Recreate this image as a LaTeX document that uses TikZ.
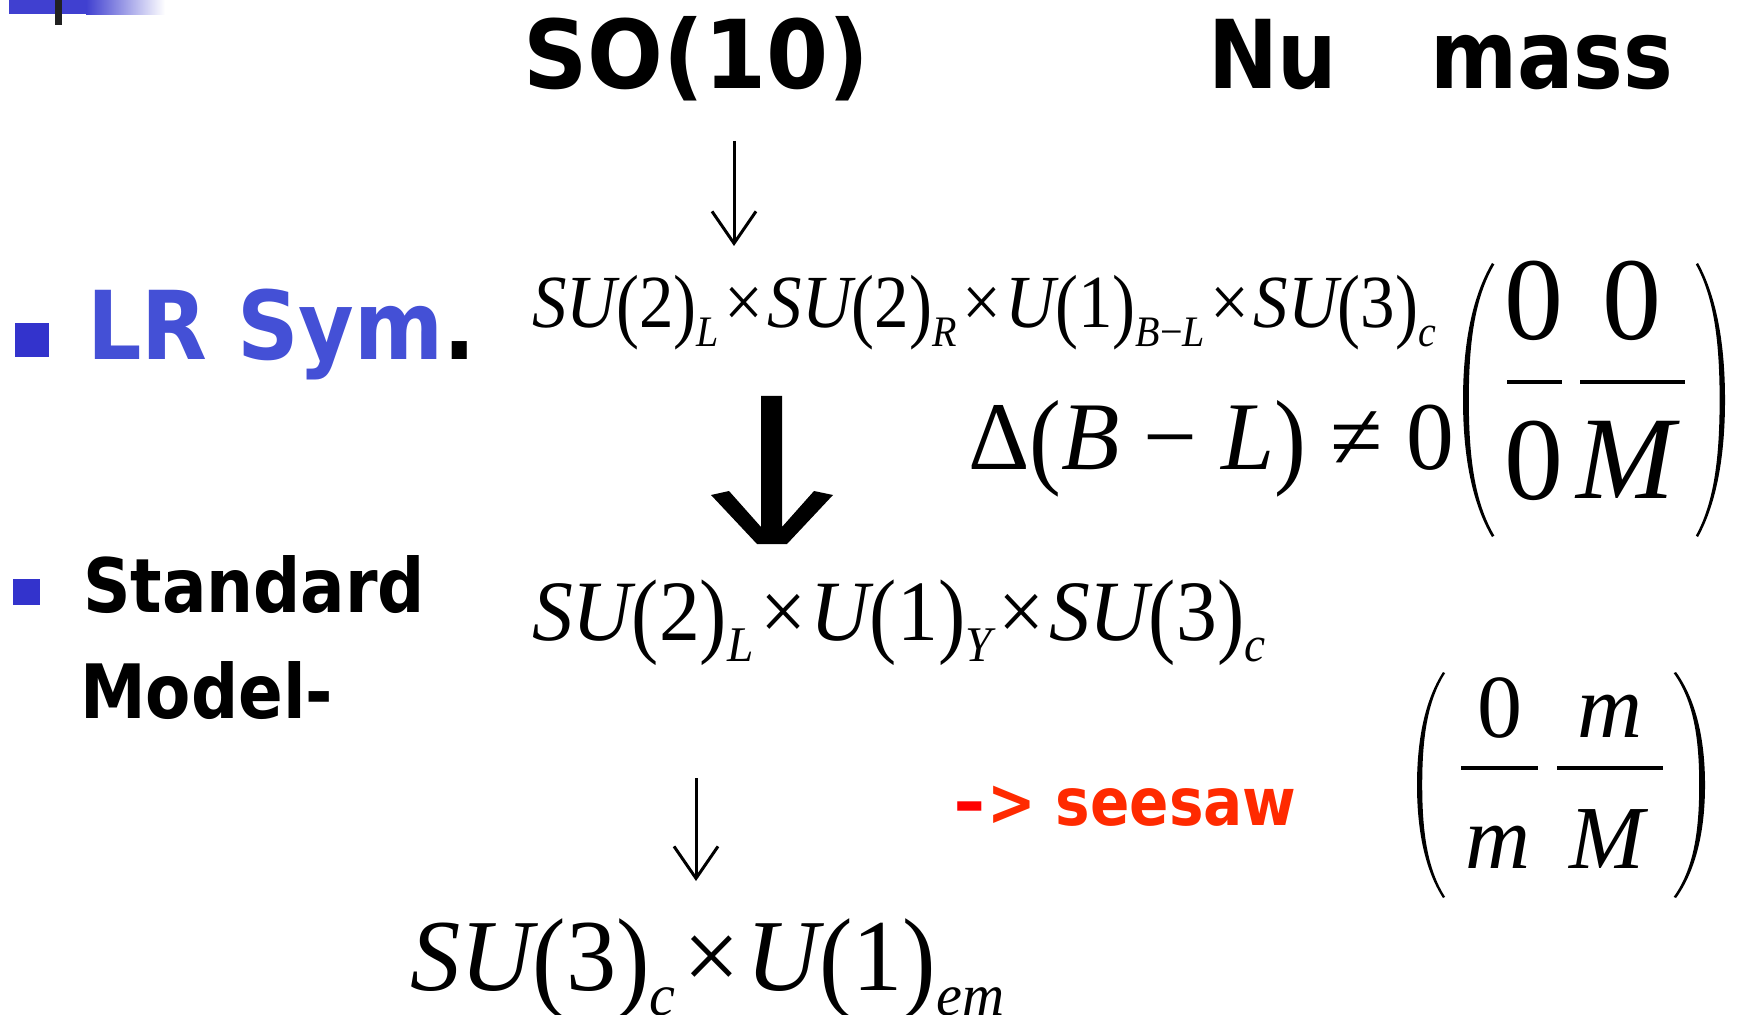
\documentclass[tikz,border=0pt]{standalone}
\usepackage{fontspec}
\usepackage{graphicx}
\usetikzlibrary{arrows.meta}
\newfontfamily\tah[FakeStretch=0.88]{DejaVu Sans}
\newfontfamily\tahw[FakeStretch=0.94]{DejaVu Sans}
\newfontfamily\tahm[FakeStretch=0.9]{DejaVu Sans}
\newfontfamily\tms{Liberation Serif}
\definecolor{lrblue}{HTML}{4450D6}
\definecolor{bulblue}{HTML}{3333CC}
\definecolor{barblue}{HTML}{4040D0}
\definecolor{sawred}{HTML}{FF2A00}
\definecolor{dashred}{HTML}{FF0000}
\newcommand\lp{\raisebox{-0.06em}{\scalebox{1}[1.1]{(}}}
\newcommand\rp{\raisebox{-0.06em}{\scalebox{1}[1.1]{)}}}
\newcommand\subx[1]{\raisebox{-0.25em}{\scalebox{0.58}{\itshape #1}}}
\newcommand\tmul{\hspace{0.08em}×\hspace{0.06em}}
\newcommand\fs[1]{\fontsize{#1pt}{#1pt}\selectfont}
\newcommand\myparen[4]{% #1 x at ends, #2 x at bulge, #3 y top, #4 y bottom
  \pgfmathsetmacro\pym{(#3+#4)/2}%
  \pgfmathsetmacro\pyh{(#4-#3)/2}%
  \pgfmathsetmacro\pd{#2-#1}%
  \fill (#1,\pym-\pyh)
    .. controls (#1+0.7*\pd,\pym-0.75*\pyh) and (#1+\pd,\pym-0.4*\pyh) .. (#1+\pd,\pym)
    .. controls (#1+\pd,\pym+0.4*\pyh) and (#1+0.7*\pd,\pym+0.75*\pyh) .. (#1,\pym+\pyh)
    -- (#1-0.08*\pd,\pym+0.99*\pyh)
    .. controls (#1+0.62*\pd,\pym+0.74*\pyh) and (#1+0.8*\pd,\pym+0.4*\pyh) .. (#1+0.8*\pd,\pym)
    .. controls (#1+0.8*\pd,\pym-0.4*\pyh) and (#1+0.62*\pd,\pym-0.74*\pyh) .. (#1-0.08*\pd,\pym-0.99*\pyh)
    -- cycle;}
\begin{document}
\begin{tikzpicture}[x=0.5pt,y=-0.5pt,
  every node/.style={inner sep=0pt,outer sep=0pt,anchor=base west},
  head/.style={font={\tah\bfseries\fs{47.5}}},
  side/.style={font={\tah\bfseries\fs{37.5}}},
  saw/.style={font={\tah\bfseries\fs{33}}},
  ent/.style={anchor=base,font={\tms\fs{#1}}},
  thinarrow/.style={line width=1.5pt,-{Straight Barb[length=16pt,width=22pt,line width=1.5pt]}},
  bar/.style={line width=2.2pt}]
\useasboundingbox (0,0) rectangle (1738,1015);
% top-left decoration
\fill[barblue] (9,0) rectangle (86,14);
\shade[left color=barblue,right color=white] (86,0) rectangle (165,15);
\fill[black!87] (55,0) rectangle (62,25);
% titles
\node[head,font={\tahw\bfseries\fs{47.5}}] (so10) at (523,89) {SO(10)};
\node[head] (nu) at (1208,89) {Nu};
\node[head] (mass) at (1430,89) {mass};
% bullets
\fill[bulblue] (15,323) rectangle (49,357);
\node[head,font={\tahm\bfseries\fs{47.5}},text=lrblue] (lr) at (87,360) {LR Sym\textcolor{black}{.}};
\fill[bulblue] (13,579) rectangle (40,605);
\node[side] (std) at (83,612) {Standard};
\node[side] (model) at (80,718) {Model-};
% group chain
\node[font={\tms\fs{37.5}}] (g1) at (532,328) {\scalebox{0.92}[1]{{\itshape SU}\lp2\rp\subx{L}\tmul{\itshape SU}\lp2\rp\subx{R}\tmul{\itshape U}\lp1\rp\subx{B{\upshape−}L}\tmul{\itshape SU}\lp3\rp\subx{c}}};
\node[font={\tms\fs{43}}] (g2) at (532,640) {\scalebox{0.95}[1]{{\itshape SU}\lp2\rp\subx{L}\tmul{\itshape U}\lp1\rp\subx{Y}\tmul{\itshape SU}\lp3\rp\subx{c}}};
\node[font={\tms\fs{51}}] (g3) at (410,990) {\scalebox{0.985}[1]{{\itshape SU}\lp3\rp\subx{c}\tmul{\itshape U}\lp1\rp\subx{em}}};
\node[font={\tms\fs{48.5}}] (dbl) at (968,469) {\scalebox{0.985}[1]{Δ\lp\textit{B} − \textit{L}\rp\ ≠ 0}};
% arrows
\coordinate (a1s) at (734,141);
\coordinate (a1e) at (734,246);
\draw[thinarrow] (a1s) -- (a1e);
\coordinate (a2s) at (696,778);
\coordinate (a2e) at (696,881);
\draw[thinarrow] (a2s) -- (a2e);
\fill (761,396) -- (782,396) -- (782,527) -- (814,491) -- (833,495) -- (787,544)
  -- (757,544) -- (711,495) -- (729,491) -- (761,527) -- cycle;
% seesaw
\node[saw,text=dashred] (dash) at (953,825) {\scalebox{1.35}[1]{-}};
\node[saw,text=sawred] (saw) at (987,825) {> seesaw};
% matrix 1
\myparen{1492}{1463}{263}{537}
\myparen{1698}{1725}{263}{537}
\node[ent=59] (m11) at (1534,340) {0};
\node[ent=59] (m12) at (1632,340) {0};
\node[ent=59] (m21) at (1534,500) {0};
\node[ent=59] (m22) at (1626,498) {\itshape M};
\draw[bar] (1507,382) -- (1562,382);
\draw[bar] (1580,382) -- (1685,382);
% matrix 2
\myparen{1443}{1417}{672}{898}
\myparen{1676}{1705}{672}{898}
\node[ent=45] (n11) at (1500,737) {0};
\node[ent=45] (n12) at (1610,737) {\itshape m};
\node[ent=45] (n21) at (1498,868) {\itshape m};
\node[ent=45] (n22) at (1607,868) {\itshape M};
\draw[bar] (1461,768) -- (1538,768);
\draw[bar] (1557,768) -- (1663,768);
\end{tikzpicture}
\end{document}
